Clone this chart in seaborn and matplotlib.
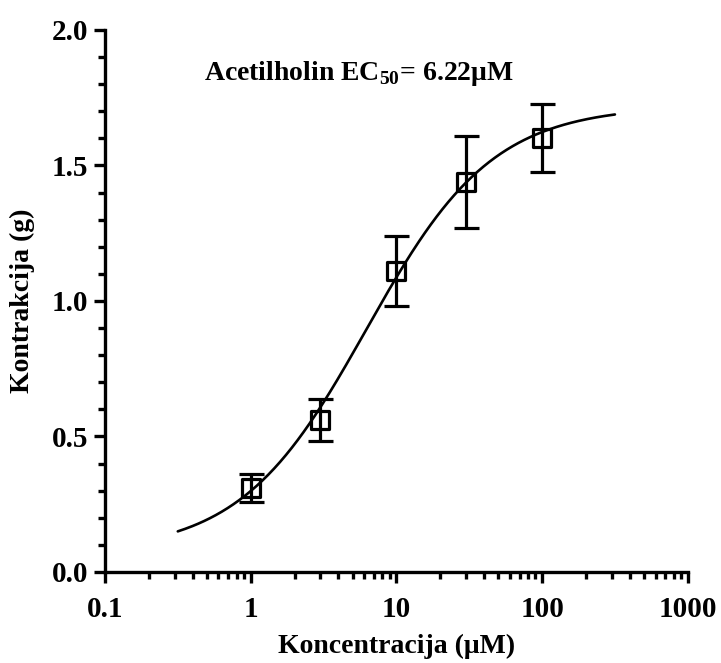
import numpy as np
import pandas as pd
import matplotlib
matplotlib.use('Agg')
import matplotlib.pyplot as plt
import matplotlib.ticker as mticker
import seaborn as sns

# datos medidos (media +/- error)
konc = [1, 3, 10, 30, 100]
kontrakcija = [0.31, 0.56, 1.11, 1.44, 1.60]
greska = [0.05, 0.077, 0.13, 0.17, 0.125]

# parametros del ajuste sigmoide
ec50 = 6.22
dno = 0.07
vrh = 1.72
hill = 1.0
krivulja_od, krivulja_do = 0.316, 316

sns.set_theme(style="ticks")
plt.rcParams['font.family'] = ['Liberation Serif', 'DejaVu Serif']
plt.rcParams['font.weight'] = 'bold'
plt.rcParams['text.color'] = 'black'
plt.rcParams['axes.labelcolor'] = 'black'
plt.rcParams['xtick.color'] = 'black'
plt.rcParams['ytick.color'] = 'black'
plt.rcParams['axes.edgecolor'] = 'black'
plt.rcParams['mathtext.fontset'] = 'custom'
plt.rcParams['mathtext.rm'] = 'Liberation Serif:bold'
plt.rcParams['mathtext.bf'] = 'Liberation Serif:bold'

fig = plt.figure(figsize=(7.21, 6.63), dpi=100)
ax = fig.add_axes([0.1456, 0.1373, 0.8084, 0.8175])

xs = np.logspace(np.log10(krivulja_od), np.log10(krivulja_do), 300)
ys = dno + (vrh - dno) / (1 + (ec50 / xs) ** hill)
df_kriva = pd.DataFrame({"x": xs, "y": ys})
sns.lineplot(data=df_kriva, x="x", y="y", color='black', linewidth=1.9, ax=ax)

ax.errorbar(konc, kontrakcija, yerr=greska, fmt='none', ecolor='black',
            elinewidth=2.3, capsize=9, capthick=2.3, zorder=3)
sns.scatterplot(x=konc, y=kontrakcija, marker='s', s=170, facecolor='none',
                edgecolor='black', linewidth=2.3, zorder=4, ax=ax)

ax.set_xscale('log')
ax.set_xlim(0.1, 1000)
ax.set_ylim(0, 2.0)
ax.set_xticks([0.1, 1, 10, 100, 1000])
ax.xaxis.set_major_formatter(mticker.FuncFormatter(lambda v, p: f"{v:g}"))
ax.xaxis.set_minor_locator(mticker.LogLocator(base=10, subs=np.arange(2, 10)))
ax.xaxis.set_minor_formatter(mticker.NullFormatter())
ax.set_yticks([0.0, 0.5, 1.0, 1.5, 2.0])
ax.yaxis.set_major_formatter(mticker.FormatStrFormatter('%.1f'))
ax.yaxis.set_minor_locator(mticker.MultipleLocator(0.1))

sns.despine(ax=ax)
for s in ['left', 'bottom']:
    ax.spines[s].set_linewidth(2.4)
ax.tick_params(which='major', length=8, width=2.4, labelsize=21, direction='out', pad=4)
ax.tick_params(axis='x', which='major', pad=9)
ax.tick_params(which='minor', length=5, width=2.4, direction='out')

ax.set_xlabel('Koncentracija (μM)', fontsize=20, fontweight='bold', labelpad=8)
ax.set_ylabel('Kontrakcija (g)', fontsize=20, fontweight='bold', labelpad=12)

ax.text(0.435, 0.92, r'Acetilholin EC$_{50}$= 6.22μM', transform=ax.transAxes,
        fontsize=20, fontweight='bold', ha='center', va='center')

fig.savefig('out.png', dpi=100)
